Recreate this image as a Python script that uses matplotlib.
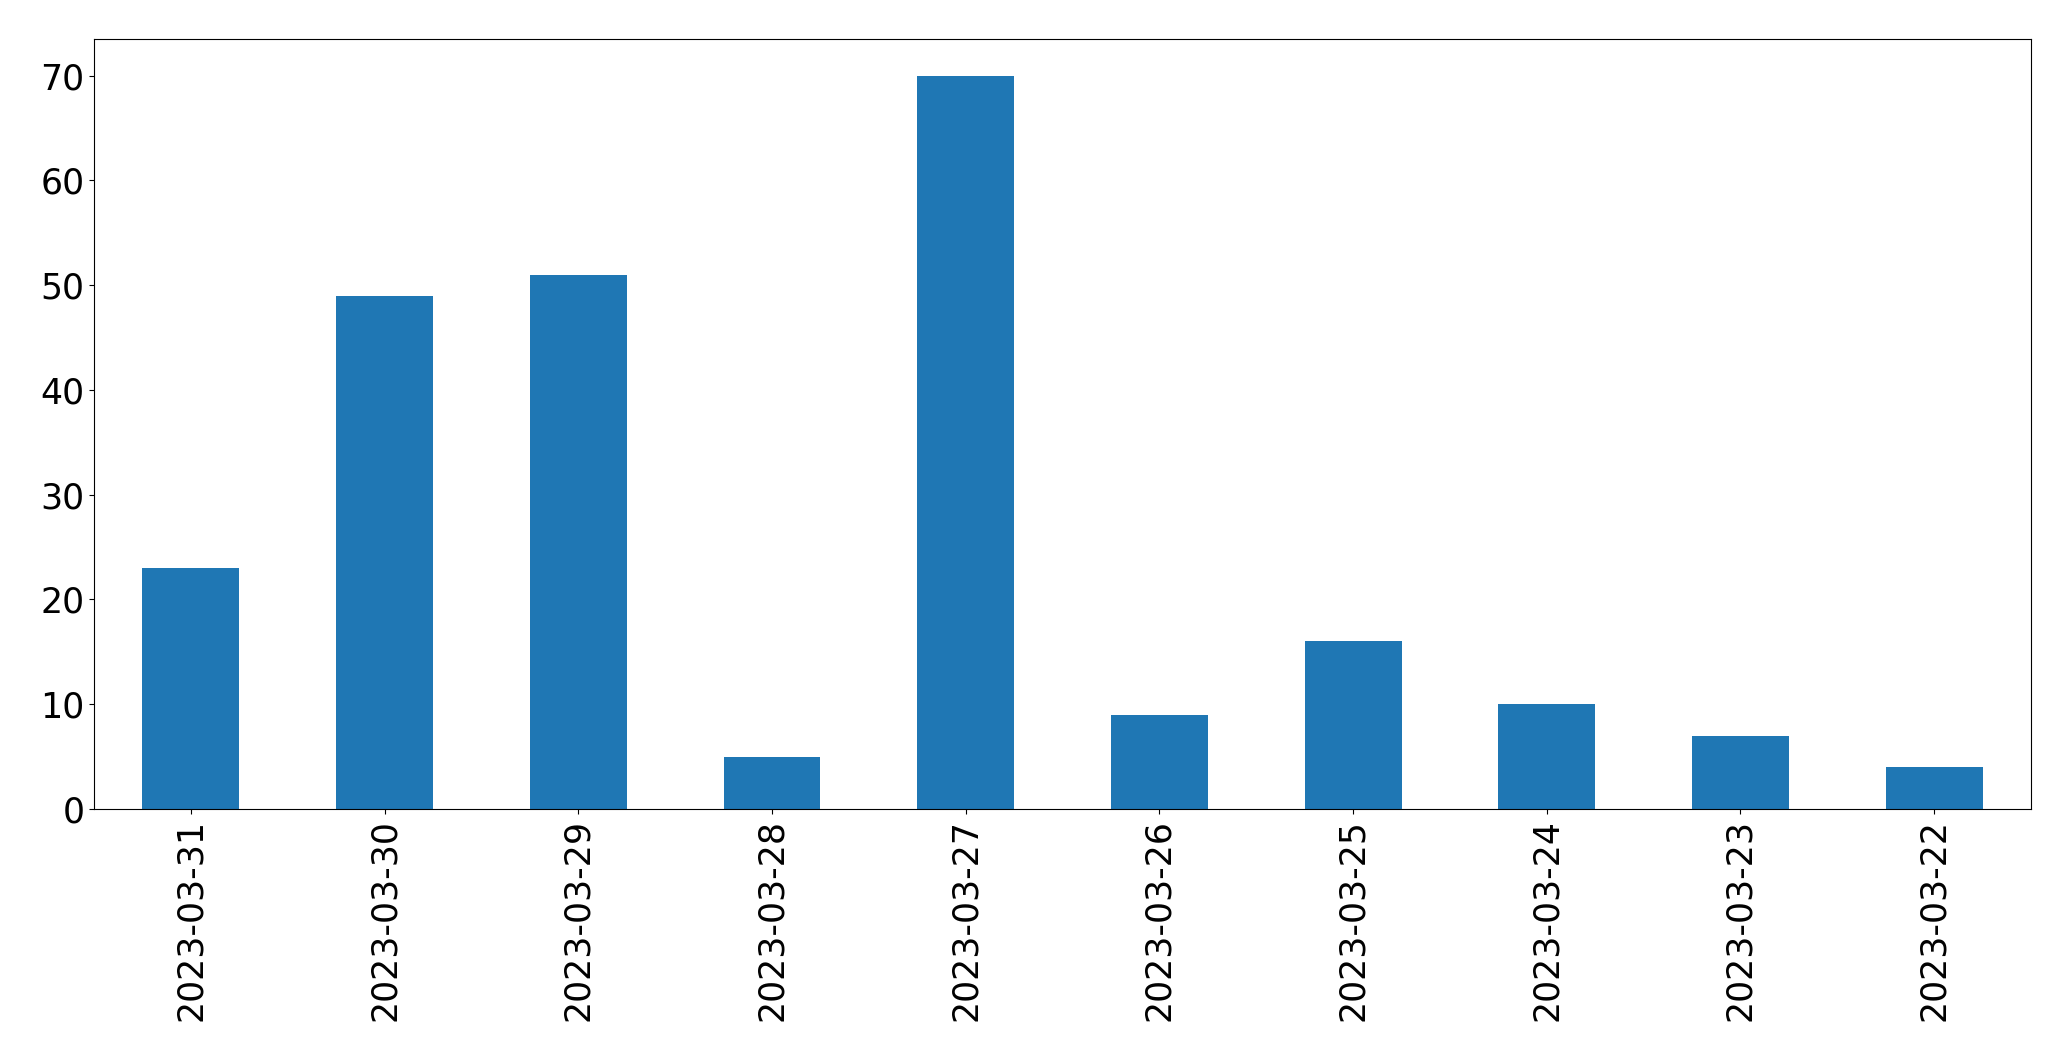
import matplotlib
matplotlib.use("Agg")
import matplotlib.pyplot as plt
import pandas as pd

dates = ["2023-03-31", "2023-03-30", "2023-03-29", "2023-03-28", "2023-03-27",
         "2023-03-26", "2023-03-25", "2023-03-24", "2023-03-23", "2023-03-22"]
counts = [23, 49, 51, 5, 70, 9, 16, 10, 7, 4]

s = pd.Series(counts, index=dates)

fig = plt.figure(figsize=(20.71, 10.61), dpi=100)
ax = fig.add_axes([0.0454, 0.2375, 0.9353, 0.7257])
s.plot(kind="bar", ax=ax, color="#1f77b4", fontsize=25)
ax.tick_params(axis="x", labelrotation=90)

fig.savefig("out.png", dpi=100)
